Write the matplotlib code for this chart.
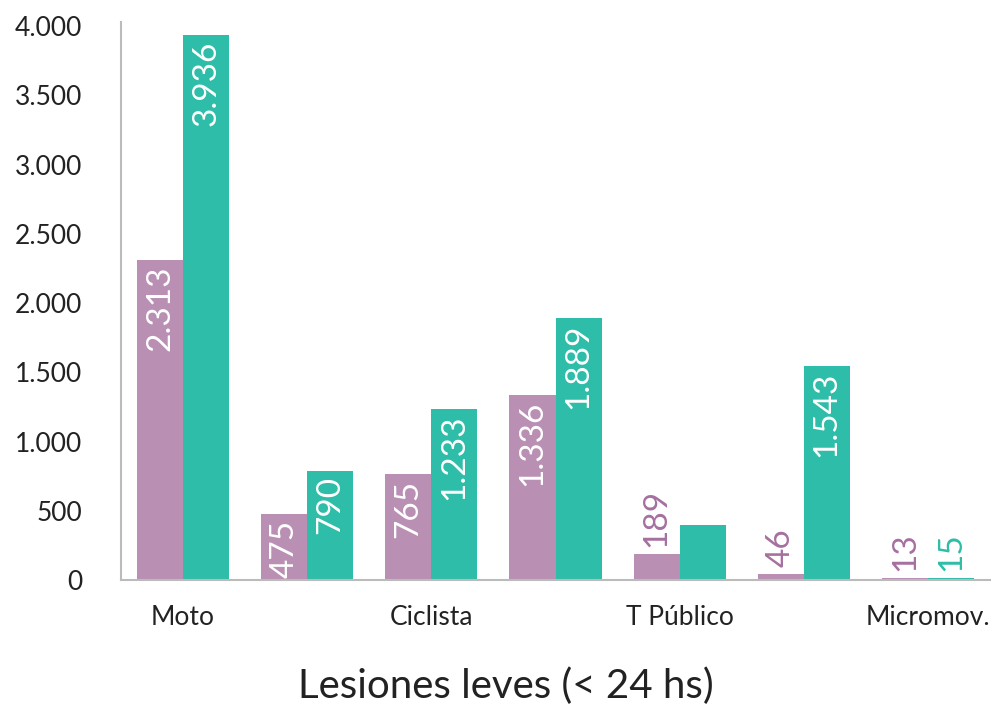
import numpy as np
import matplotlib
matplotlib.use("Agg")
import matplotlib.pyplot as plt

# Data
categories = ['Moto', '', 'Ciclista', '', 'T Público', '', 'Micromov.']
serie_a = [2313, 475, 765, 1336, 189, 46, 13]
serie_b = [3936, 790, 1233, 1889, 398, 1543, 15]
labels_a = ['2.313', '475', '765', '1.336', '189', '46', '13']
labels_b = ['3.936', '790', '1.233', '1.889', '', '1.543', '15']
yticks = [0, 500, 1000, 1500, 2000, 2500, 3000, 3500, 4000]
ytick_labels = ['0', '500', '1.000', '1.500', '2.000', '2.500', '3.000', '3.500', '4.000']
title = 'Lesiones leves (< 24 hs)'

color_a = '#B990B4'
color_b = '#2EBDA8'
text_a = '#A5709F'
text_b = '#2EBDA8'

plt.rcParams['font.family'] = ['Lato', 'DejaVu Sans']

fig = plt.figure(figsize=(10.02, 7.05), dpi=100)
ax = fig.add_axes([0.1208, 0.1773, 0.8672, 0.7915])

x = np.arange(len(categories))
w = 0.371
bars_a = ax.bar(x - w / 2, serie_a, width=w, color=color_a)
bars_b = ax.bar(x + w / 2, serie_b, width=w, color=color_b)

ax.set_xlim(-0.5, len(categories) - 0.5)
ax.set_ylim(0, 4030)


def add_labels(bars, values, labels, out_color):
    for bar, v, lab in zip(bars, values, labels):
        if not lab:
            continue
        cx = bar.get_x() + bar.get_width() / 2
        if v >= 450:
            ax.annotate(lab, (cx, v), xytext=(0, -4), textcoords='offset points',
                        rotation=90, ha='center', va='top', color='white', fontsize=24)
        else:
            ax.annotate(lab, (cx, v), xytext=(0, 5), textcoords='offset points',
                        rotation=90, ha='center', va='bottom', color=out_color, fontsize=24)


add_labels(bars_a, serie_a, labels_a, text_a)
add_labels(bars_b, serie_b, labels_b, text_b)

ax.set_yticks(yticks)
ax.set_yticklabels(ytick_labels, fontsize=19, color='#222222')
ax.set_xticks(x)
ax.set_xticklabels(categories, fontsize=19, color='#222222')
ax.tick_params(axis='both', length=0)
ax.tick_params(axis='x', pad=18)
ax.tick_params(axis='y', pad=28)

for side in ['top', 'right']:
    ax.spines[side].set_visible(False)
for side in ['left', 'bottom']:
    ax.spines[side].set_color('#BBBBBB')
    ax.spines[side].set_linewidth(1.5)

fig.text(0.505, 0.0, title, ha='center', va='bottom', fontsize=29, color='#222222')

fig.savefig('out.png', dpi=100)
